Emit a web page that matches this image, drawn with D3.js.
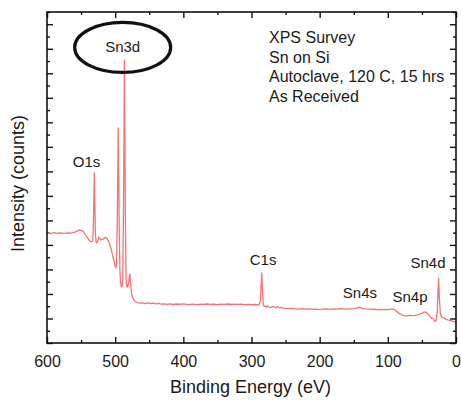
<!DOCTYPE html>
<html>
<head>
<meta charset="utf-8">
<script src="https://cdn.jsdelivr.net/npm/d3@7/dist/d3.min.js"></script>
<style>
  html, body { margin: 0; padding: 0; background: #fff; }
  svg { display: block; font-family: "Liberation Sans", Arial, sans-serif; }
</style>
</head>
<body>
<svg id="chart" width="461" height="400"></svg>
<script>
// XPS survey spectrum: binding energy (eV) and intensity (arbitrary units)
const energy = [
  600, 595, 590, 585, 580, 575, 570, 565, 560, 556, 553, 550, 547, 544, 541, 538, 535, 533,
  532, 531, 530.5, 530, 529, 528, 527, 525, 524, 523, 521, 519, 517, 515, 513, 511, 509, 507,
  505, 503, 501, 500, 499, 498, 497, 496, 495.5, 495, 494, 493, 492, 491, 490, 489, 488, 487,
  486.5, 486, 485, 484, 483, 482, 481, 480, 479, 478.5, 478, 477, 476, 475, 473, 470, 467, 464,
  460, 456, 452, 448, 444, 440, 436, 432, 428, 424, 420, 415, 410, 405, 400, 395, 390, 385,
  380, 375, 370, 365, 360, 355, 350, 345, 340, 335, 330, 325, 320, 315, 310, 305, 300, 295,
  291, 289, 287, 286, 285, 284, 283, 282, 280, 278, 277, 276, 274, 272, 270, 268, 266, 264,
  262, 260, 258, 256, 254, 250, 245, 240, 235, 230, 225, 220, 215, 210, 205, 200, 195, 190,
  185, 180, 175, 170, 165, 160, 155, 150, 146, 143, 141, 139, 136, 132, 128, 124, 120, 116,
  112, 108, 104, 100, 96, 93, 90, 88, 85, 82, 79, 76, 72, 68, 64, 60, 56, 52, 48, 46, 44,
  42, 40, 38, 36, 34, 32, 31, 29, 27.5, 26.5, 25.5, 24.5, 23, 21, 18, 15, 12, 8, 4, 0
];
const intensity = [
  8.97, 8.93, 9.00, 8.95, 8.99, 8.94, 8.98, 8.96, 9.02, 9.12, 9.22, 9.18, 9.10, 8.85, 8.60, 8.38, 8.26, 8.30,
  9.40, 12.6, 13.87, 12.0, 8.9, 8.25, 8.16, 8.40, 8.65, 8.55, 8.40, 8.45, 8.50, 8.62, 8.58, 8.45, 8.20, 7.90,
  7.45, 6.95, 6.55, 6.25, 6.12, 6.6, 9.5, 14.5, 17.54, 15.5, 9.0, 5.9, 4.9, 4.62, 4.57, 5.2, 9.5, 17.0,
  23.08, 19.0, 10.0, 5.2, 4.6, 4.57, 4.75, 5.06, 5.50, 5.63, 5.30, 4.60, 4.10, 3.80, 3.55, 3.36, 3.30, 3.25,
  3.28, 3.22, 3.27, 3.21, 3.26, 3.19, 3.24, 3.16, 3.20, 3.15, 3.19, 3.14, 3.18, 3.16, 3.20, 3.15, 3.14, 3.17,
  3.13, 3.16, 3.15, 3.18, 3.14, 3.16, 3.13, 3.17, 3.15, 3.18, 3.14, 3.16, 3.15, 3.17, 3.13, 3.15, 3.12, 3.14,
  3.10, 3.12, 3.40, 4.6, 5.71, 4.4, 3.3, 3.02, 2.98, 2.94, 3.05, 2.96, 2.92, 2.90, 2.94, 2.99, 2.91, 2.88,
  2.97, 2.89, 2.86, 2.92, 2.84, 2.82, 2.80, 2.83, 2.79, 2.77, 2.80, 2.76, 2.79, 2.74, 2.77, 2.73, 2.76, 2.78,
  2.75, 2.79, 2.77, 2.80, 2.78, 2.76, 2.79, 2.81, 2.84, 2.90, 2.92, 2.86, 2.81, 2.78, 2.76, 2.74, 2.76, 2.73,
  2.75, 2.72, 2.74, 2.73, 2.76, 2.77, 2.72, 2.62, 2.48, 2.38, 2.28, 2.24, 2.22, 2.25, 2.23, 2.26, 2.30, 2.38, 2.48, 2.53, 2.50,
  2.40, 2.30, 2.15, 2.02, 2.00, 1.85, 1.75, 1.85, 2.6, 4.2, 5.30, 3.8, 2.4, 2.12, 2.05, 1.95, 1.88, 1.82, 1.76, 1.71
];

// Peak annotations: name, binding energy and intensity of the label anchor
const peakNames = ["O1s", "Sn3d", "C1s", "Sn4s", "Sn4p", "Sn4d"];
const peakEnergy = [542, 489, 283, 141, 67.5, 41];
const peakLevel = [14.36, 23.7, 6.36, 3.67, 3.34, 6.12];

const xTicks = [600, 500, 400, 300, 200, 100, 0];
const noteLines = ["XPS Survey", "Sn on Si", "Autoclave, 120 C, 15 hrs", "As Received"];

const svg = d3.select("#chart");
const m = { left: 47, right: 5, top: 12, bottom: 57 };
const W = 461, H = 400;
const iw = W - m.left - m.right, ih = H - m.top - m.bottom;

const x = d3.scaleLinear().domain([600, 0]).range([m.left, m.left + iw]);
const y = d3.scaleLinear().domain([0, 27]).range([m.top + ih, m.top]);

const ink = "#1a1a1a";
const g = svg.append("g");

// Frame ticks (inward) on all four sides
const minorX = d3.range(0, 601, 50);
const majorY = d3.range(0, 28, 2);
const minorY = d3.range(1, 28, 2);

function tickAxis(axisFn, scale, values, size) {
  return axisFn(scale).tickValues(values).tickSize(size).tickFormat("");
}
const axes = [
  [d3.axisBottom, x, minorX.filter(v => v % 100 !== 0), -3, `translate(0,${m.top + ih})`],
  [d3.axisBottom, x, xTicks, -6, `translate(0,${m.top + ih})`],
  [d3.axisTop, x, minorX.filter(v => v % 100 !== 0), -3, `translate(0,${m.top})`],
  [d3.axisTop, x, xTicks, -6, `translate(0,${m.top})`],
  [d3.axisLeft, y, minorY, -3, `translate(${m.left},0)`],
  [d3.axisLeft, y, majorY, -6, `translate(${m.left},0)`],
  [d3.axisRight, y, minorY, -3, `translate(${m.left + iw},0)`],
  [d3.axisRight, y, majorY, -6, `translate(${m.left + iw},0)`]
];
axes.forEach(([fn, sc, vals, size, tr]) => {
  const a = g.append("g").attr("transform", tr).call(tickAxis(fn, sc, vals, size));
  a.select(".domain").remove();
  a.selectAll("line").attr("stroke", "#111").attr("stroke-width", 1.4);
});

// Bottom tick labels
g.append("g")
  .attr("transform", `translate(0,${m.top + ih})`)
  .call(d3.axisBottom(x).tickValues(xTicks).tickSize(0).tickPadding(13).tickFormat(d3.format("d")))
  .call(a => a.select(".domain").remove())
  .selectAll("text")
  .attr("font-size", 16)
  .attr("fill", ink)
  .attr("font-family", "Liberation Sans, Arial, sans-serif");

// Spectrum
const pts = energy.map((e, i) => [e, intensity[i]]);
const line = d3.line().x(d => x(d[0])).y(d => y(d[1]));
g.append("path")
  .datum(pts)
  .attr("d", line)
  .attr("fill", "none")
  .attr("stroke", "#f27474")
  .attr("stroke-width", 1.3)
  .attr("stroke-linejoin", "round");

// Plot frame
g.append("rect")
  .attr("x", m.left).attr("y", m.top)
  .attr("width", iw).attr("height", ih)
  .attr("fill", "none")
  .attr("stroke", "#111")
  .attr("stroke-width", 1.6);

// Peak labels
g.append("g").selectAll("text")
  .data(peakNames)
  .join("text")
  .attr("x", (d, i) => x(peakEnergy[i]))
  .attr("y", (d, i) => y(peakLevel[i]))
  .attr("text-anchor", "middle")
  .attr("font-size", 15)
  .attr("fill", ink)
  .text(d => d);

// Ellipse round the Sn3d label
const sn3d = peakNames.indexOf("Sn3d");
g.append("ellipse")
  .attr("cx", x(peakEnergy[sn3d]))
  .attr("cy", y(peakLevel[sn3d]) - 5)
  .attr("rx", 48)
  .attr("ry", 25)
  .attr("fill", "none")
  .attr("stroke", "#111")
  .attr("stroke-width", 3.2);

// Sample description
g.append("g").selectAll("text")
  .data(noteLines)
  .join("text")
  .attr("x", 269)
  .attr("y", (d, i) => 43 + i * 19.5)
  .attr("font-size", 16)
  .attr("fill", ink)
  .text(d => d);

// Axis titles
svg.append("text")
  .attr("x", m.left + iw / 2 - 1)
  .attr("y", 393)
  .attr("text-anchor", "middle")
  .attr("font-size", 18)
  .attr("fill", ink)
  .text("Binding Energy (eV)");

svg.append("text")
  .attr("transform", `translate(24,${m.top + ih / 2 + 6}) rotate(-90)`)
  .attr("text-anchor", "middle")
  .attr("font-size", 18)
  .attr("fill", ink)
  .text("Intensity (counts)");
</script>
</body>
</html>
